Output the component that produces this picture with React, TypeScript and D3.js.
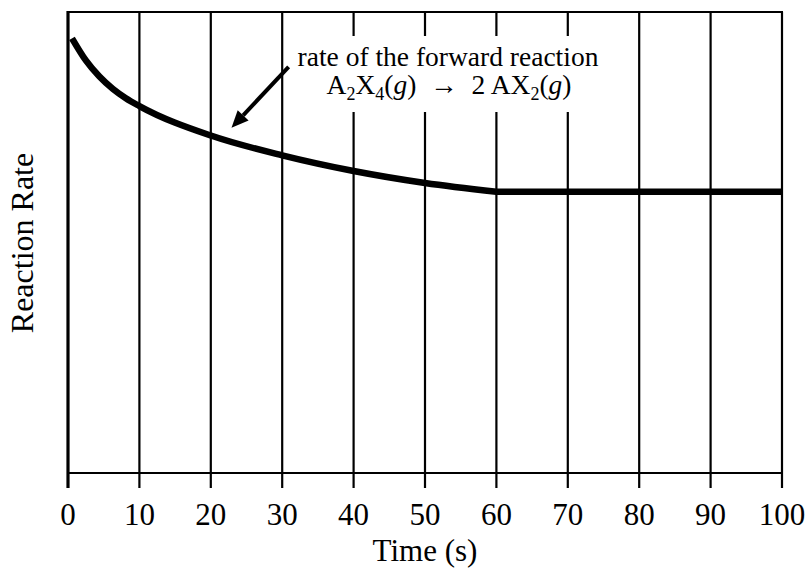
import React from "react";
import * as d3 from "d3";

const decayTimes = [0.56, 2.5, 4.4, 6.3, 8.1, 10, 20, 30, 40, 50, 60];
const decayRates = [9.43, 8.95, 8.6, 8.33, 8.13, 7.96, 7.32, 6.89, 6.55, 6.29, 6.1];
const plateauTimes = [60, 70, 80, 90, 100];
const plateauRates = [6.1, 6.1, 6.1, 6.1, 6.1];
const xTicks = [0, 10, 20, 30, 40, 50, 60, 70, 80, 90, 100];
const xLabel = "Time (s)";
const yLabel = "Reaction Rate";
const noteLine1 = "rate of the forward reaction";
const arrowFrom = [30.9, 8.81];
const arrowTo = [22.9, 7.49];

const W = 808;
const H = 571;
const left = 68;
const right = 782;
const top = 12;
const bottom = 473;
const font = "'Liberation Serif', 'Times New Roman', serif";

export default function App() {
  const x = d3.scaleLinear().domain([0, 100]).range([left, right]);
  const y = d3.scaleLinear().domain([0, 10]).range([bottom, top]);
  const decay = decayTimes.map((t, i) => [t, decayRates[i]] as [number, number]);
  const plateau = plateauTimes.map((t, i) => [t, plateauRates[i]] as [number, number]);
  const smooth = d3
    .line<[number, number]>()
    .x((d) => x(d[0]))
    .y((d) => y(d[1]))
    .curve(d3.curveMonotoneX);
  const straight = d3
    .line<[number, number]>()
    .x((d) => x(d[0]))
    .y((d) => y(d[1]));

  const ax1 = x(arrowFrom[0]);
  const ay1 = y(arrowFrom[1]);
  const ax2 = x(arrowTo[0]);
  const ay2 = y(arrowTo[1]);
  const ang = Math.atan2(ay2 - ay1, ax2 - ax1);
  const headLen = 17;
  const headW = 7.5;
  const bx = ax2 - headLen * Math.cos(ang);
  const by = ay2 - headLen * Math.sin(ang);
  const px = -Math.sin(ang) * headW;
  const py = Math.cos(ang) * headW;

  return (
    <svg
      width={W}
      height={H}
      style={{ position: "absolute", left: 0, top: 0, background: "#fff" }}
      fontFamily={font}
    >
      <rect x={0} y={0} width={W} height={H} fill="#fff" />
      {xTicks.slice(1).map((t) => (
        <line
          key={"g" + t}
          x1={x(t)}
          x2={x(t)}
          y1={top}
          y2={bottom + 15}
          stroke="#000"
          strokeWidth={2.2}
        />
      ))}
      <line x1={left} x2={right + 1} y1={top} y2={top} stroke="#000" strokeWidth={2.2} />
      <line x1={left} x2={right + 1} y1={bottom} y2={bottom} stroke="#000" strokeWidth={2.2} />
      <line x1={left} x2={left} y1={top - 1} y2={bottom + 15} stroke="#000" strokeWidth={3.2} />
      <rect x={292} y={36} width={312} height={76} fill="#fff" />
      <path
        d={(smooth(decay) || "") + " " + (straight(plateau) || "").replace(/^M/, "L")}
        fill="none"
        stroke="#000"
        strokeWidth={6.5}
        strokeLinejoin="round"
      />
      <line x1={ax1} y1={ay1} x2={bx} y2={by} stroke="#000" strokeWidth={4} />
      <polygon
        points={`${ax2},${ay2} ${bx + px},${by + py} ${bx - px},${by - py}`}
        fill="#000"
      />
      <text x={448} y={66} fontSize={27.5} textAnchor="middle" fill="#000">
        {noteLine1}
      </text>
      <text x={449} y={94} fontSize={27.5} textAnchor="middle" fill="#000">
        <tspan>A</tspan>
        <tspan fontSize={18} dy={6}>2</tspan>
        <tspan dy={-6}>X</tspan>
        <tspan fontSize={18} dy={6}>4</tspan>
        <tspan dy={-6}>(</tspan>
        <tspan fontStyle="italic">g</tspan>
        <tspan>){"\u00a0\u00a0"}{"\u2192"}{"\u00a0\u00a0"}2{"\u2009"}AX</tspan>
        <tspan fontSize={18} dy={6}>2</tspan>
        <tspan dy={-6}>(</tspan>
        <tspan fontStyle="italic">g</tspan>
        <tspan>)</tspan>
      </text>
      {xTicks.map((t) => (
        <text
          key={"t" + t}
          x={x(t)}
          y={525}
          fontSize={31}
          textAnchor="middle"
          fill="#000"
        >
          {t}
        </text>
      ))}
      <text x={425} y={561} fontSize={31} textAnchor="middle" fill="#000">
        {xLabel}
      </text>
      <text
        transform={`translate(33, 243) rotate(-90)`}
        fontSize={32}
        textAnchor="middle"
        fill="#000"
      >
        {yLabel}
      </text>
    </svg>
  );
}
